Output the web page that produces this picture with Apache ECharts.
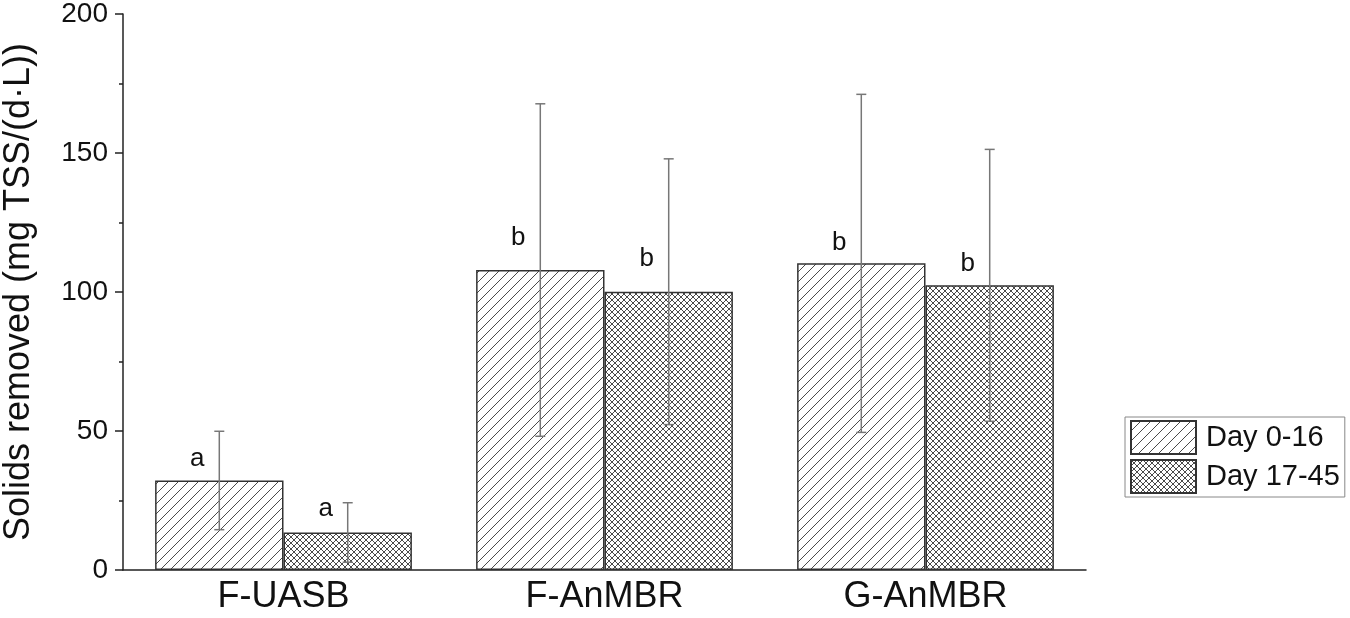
<!DOCTYPE html>
<html>
<head>
<meta charset="utf-8">
<script src="https://cdn.jsdelivr.net/npm/echarts@6/dist/echarts.min.js"></script>
<style>
  html, body { margin: 0; padding: 0; background: #fff; }
  #chart { width: 1350px; height: 618px; }
</style>
</head>
<body>
<div id="chart"></div>
<script>
const categories = ['F-UASB', 'F-AnMBR', 'G-AnMBR'];
const seriesNames = ['Day 0-16', 'Day 17-45'];

const day0Mean = [32.2, 107.9, 110.3];
const day0Sd = [17.7, 59.8, 60.8];
const day0Letters = ['a', 'b', 'b'];
const day0LetterY = [40, 119.6, 117.8];

const day17Mean = [13.5, 100.1, 102.4];
const day17Sd = [10.7, 47.8, 48.9];
const day17Letters = ['a', 'b', 'b'];
const day17LetterY = [22, 112, 110.2];

const FONT = '"Liberation Sans", Arial, sans-serif';

// hatch tiles
function hatch(size, both) {
  const c = document.createElement('canvas');
  c.width = size; c.height = size;
  const ctx = c.getContext('2d');
  ctx.fillStyle = '#fff';
  ctx.fillRect(0, 0, size, size);
  ctx.strokeStyle = '#4a4a4a';
  ctx.lineWidth = 1;
  ctx.beginPath();
  // "/" direction
  ctx.moveTo(-1, size + 1); ctx.lineTo(size + 1, -1);
  ctx.moveTo(-1, 1); ctx.lineTo(1, -1);
  ctx.moveTo(size - 1, size + 1); ctx.lineTo(size + 1, size - 1);
  if (both) {
    ctx.moveTo(-1, -1); ctx.lineTo(size + 1, size + 1);
    ctx.moveTo(size - 1, -1); ctx.lineTo(size + 1, 1);
    ctx.moveTo(-1, size - 1); ctx.lineTo(1, size + 1);
  }
  ctx.stroke();
  return { image: c, repeat: 'repeat' };
}

const diagFill = hatch(10, false);
const crossFill = hatch(6, true);

function errorSeries(mean, sd, letters, letterY, sign) {
  return {
    type: 'custom',
    xAxisIndex: 0,
    z: 5,
    silent: true,
    data: mean.map((m, i) => [i, m, sd[i], letterY[i]]),
    renderItem: (params, api) => {
      const i = api.value(0);
      const band = api.size([1, 0])[0];
      const cx = api.coord([i, api.value(1)])[0] + sign * 0.2 * band;
      const top = api.coord([i, api.value(1) + api.value(2)])[1];
      const bot = api.coord([i, api.value(1) - api.value(2)])[1];
      const ly = api.coord([i, api.value(3)])[1];
      const st = { stroke: '#777', lineWidth: 1.5 };
      return {
        type: 'group',
        children: [
          { type: 'line', shape: { x1: cx, y1: top, x2: cx, y2: bot }, style: st },
          { type: 'line', shape: { x1: cx - 5, y1: top, x2: cx + 5, y2: top }, style: st },
          { type: 'line', shape: { x1: cx - 5, y1: bot, x2: cx + 5, y2: bot }, style: st },
          {
            type: 'text',
            style: {
              x: cx - 22, y: ly, text: letters[params.dataIndex],
              fill: '#111', font: '26px ' + FONT,
              align: 'center', verticalAlign: 'middle'
            }
          }
        ]
      };
    }
  };
}

const chart = echarts.init(document.getElementById('chart'));
chart.setOption({
  animation: false,
  backgroundColor: '#fff',
  textStyle: { fontFamily: FONT },
  grid: { left: 123, right: 264, top: 14, bottom: 48, containLabel: false, outerBoundsMode: 'none' },
  legend: {
    orient: 'vertical',
    left: 1125,
    top: 417,
    padding: [3, 5, 3, 5],
    itemGap: 4,
    itemWidth: 65,
    itemHeight: 33,
    icon: 'rect',
    borderColor: '#888',
    borderWidth: 1,
    textStyle: { fontSize: 29, color: '#111', fontFamily: FONT, padding: [0, 0, 0, 5] },
    data: seriesNames
  },
  xAxis: [{
    type: 'category',
    data: categories,
    axisLine: { lineStyle: { color: '#222', width: 1.5 } },
    axisTick: { length: 4, lineStyle: { color: '#222', width: 1.5 } },
    axisLabel: { fontSize: 36, color: '#111', margin: 9, fontFamily: FONT }
  }, {
    type: 'category',
    data: categories,
    position: 'bottom',
    axisLine: { show: false },
    axisTick: { alignWithLabel: true, length: 8, lineStyle: { color: '#222', width: 1.5 } },
    axisLabel: { show: false }
  }],
  yAxis: {
    type: 'value',
    min: 0,
    max: 200,
    interval: 50,
    name: 'Solids removed (mg TSS/(d·L))',
    nameLocation: 'middle',
    nameGap: 86,
    nameTextStyle: { fontSize: 36, color: '#111', fontFamily: FONT },
    axisLine: { show: true, lineStyle: { color: '#222', width: 1.5 } },
    axisTick: { show: true, length: 8, lineStyle: { color: '#222', width: 1.5 } },
    minorTick: { show: true, splitNumber: 2, length: 4, lineStyle: { color: '#222', width: 1.5 } },
    splitLine: { show: false },
    axisLabel: { fontSize: 28, color: '#111', margin: 15, fontFamily: FONT }
  },
  series: [{
    name: seriesNames[0],
    type: 'bar',
    xAxisIndex: 0,
    barGap: 0,
    barCategoryGap: '20%',
    data: day0Mean,
    itemStyle: { color: diagFill, borderColor: '#333', borderWidth: 1.5 }
  }, {
    name: seriesNames[1],
    type: 'bar',
    xAxisIndex: 0,
    barGap: 0,
    barCategoryGap: '20%',
    data: day17Mean,
    itemStyle: { color: crossFill, borderColor: '#333', borderWidth: 1.5 }
  },
  errorSeries(day0Mean, day0Sd, day0Letters, day0LetterY, -1),
  errorSeries(day17Mean, day17Sd, day17Letters, day17LetterY, 1)
  ]
});
</script>
</body>
</html>
